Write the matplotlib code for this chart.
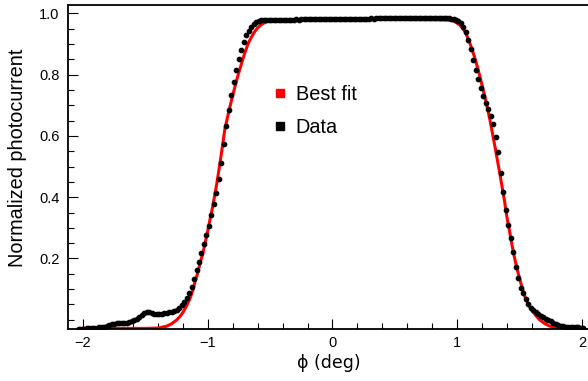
import numpy as np
import matplotlib
matplotlib.use("Agg")
import matplotlib.pyplot as plt
from matplotlib.lines import Line2D
from matplotlib.ticker import MultipleLocator

plt.rcParams['font.family'] = ['Liberation Sans', 'DejaVu Sans']

# ---- measured data (phi in deg, normalized photocurrent) ----
phi_data = [
    -2.03, -2.01, -1.99, -1.97, -1.95, -1.93, -1.91, -1.89, -1.87, -1.85,
    -1.83, -1.81, -1.79, -1.77, -1.75, -1.73, -1.71, -1.69, -1.67, -1.65,
    -1.63, -1.61, -1.59, -1.57, -1.55, -1.53, -1.51, -1.49, -1.47, -1.45,
    -1.43, -1.41, -1.39, -1.37, -1.35, -1.33, -1.31, -1.29, -1.27, -1.25,
    -1.23, -1.21, -1.19, -1.17, -1.15, -1.13, -1.11, -1.09, -1.07, -1.05,
    -1.03, -1.01, -0.99, -0.97, -0.95, -0.93, -0.91, -0.89, -0.87, -0.85,
    -0.83, -0.81, -0.79, -0.77, -0.75, -0.73, -0.71, -0.69, -0.67, -0.65,
    -0.63, -0.61, -0.59, -0.57, -0.55, -0.53, -0.51, -0.49, -0.47, -0.45,
    -0.43, -0.41, -0.39, -0.37, -0.35, -0.33, -0.31, -0.29, -0.27, -0.25,
    -0.23, -0.21, -0.19, -0.17, -0.15, -0.13, -0.11, -0.09, -0.07, -0.05,
    -0.03, -0.01, 0.01, 0.03, 0.05, 0.07, 0.09, 0.11, 0.13, 0.15,
    0.17, 0.19, 0.21, 0.23, 0.25, 0.27, 0.29, 0.31, 0.33, 0.35,
    0.37, 0.39, 0.41, 0.43, 0.45, 0.47, 0.49, 0.51, 0.53, 0.55,
    0.57, 0.59, 0.61, 0.63, 0.65, 0.67, 0.69, 0.71, 0.73, 0.75,
    0.77, 0.79, 0.81, 0.83, 0.85, 0.87, 0.89, 0.91, 0.93, 0.95,
    0.97, 0.99, 1.01, 1.03, 1.05, 1.07, 1.09, 1.11, 1.13, 1.15,
    1.17, 1.19, 1.21, 1.23, 1.25, 1.27, 1.29, 1.31, 1.33, 1.35,
    1.37, 1.39, 1.41, 1.43, 1.45, 1.47, 1.49, 1.51, 1.53, 1.55,
    1.57, 1.59, 1.61, 1.63, 1.65, 1.67, 1.69, 1.71, 1.73, 1.75,
    1.77, 1.79, 1.81, 1.83, 1.85, 1.87, 1.89, 1.91, 1.93, 1.95,
    1.97, 1.99, 2.01,
]
current_data = [
    -0.029, -0.029, -0.029, -0.028, -0.028, -0.028, -0.027, -0.026, -0.025, -0.024,
    -0.023, -0.021, -0.017, -0.014, -0.013, -0.012, -0.011, -0.011, -0.010, -0.009,
    -0.007, -0.005, -0.002, 0.002, 0.008, 0.016, 0.021, 0.024, 0.024, 0.022,
    0.020, 0.019, 0.018, 0.019, 0.021, 0.023, 0.025, 0.027, 0.029, 0.032,
    0.038, 0.047, 0.057, 0.070, 0.086, 0.108, 0.133, 0.162, 0.189, 0.219,
    0.246, 0.276, 0.307, 0.341, 0.377, 0.413, 0.459, 0.511, 0.572, 0.633,
    0.686, 0.733, 0.777, 0.814, 0.851, 0.881, 0.906, 0.928, 0.943, 0.956,
    0.965, 0.970, 0.975, 0.977, 0.978, 0.978, 0.978, 0.978, 0.978, 0.979,
    0.978, 0.979, 0.979, 0.979, 0.979, 0.979, 0.979, 0.980, 0.979, 0.980,
    0.980, 0.980, 0.980, 0.980, 0.980, 0.980, 0.981, 0.980, 0.981, 0.981,
    0.981, 0.981, 0.981, 0.981, 0.981, 0.982, 0.981, 0.982, 0.982, 0.982,
    0.982, 0.982, 0.982, 0.982, 0.982, 0.982, 0.982, 0.983, 0.982, 0.983,
    0.983, 0.983, 0.983, 0.983, 0.983, 0.983, 0.983, 0.983, 0.983, 0.983,
    0.983, 0.983, 0.983, 0.984, 0.983, 0.983, 0.984, 0.983, 0.984, 0.983,
    0.984, 0.983, 0.983, 0.983, 0.983, 0.983, 0.983, 0.983, 0.983, 0.982,
    0.981, 0.979, 0.975, 0.967, 0.956, 0.940, 0.913, 0.882, 0.847, 0.815,
    0.784, 0.755, 0.731, 0.708, 0.687, 0.666, 0.639, 0.598, 0.546, 0.479,
    0.416, 0.358, 0.309, 0.266, 0.220, 0.173, 0.135, 0.104, 0.086, 0.068,
    0.053, 0.040, 0.032, 0.024, 0.018, 0.013, 0.009, 0.004, 0.000, -0.004,
    -0.009, -0.013, -0.016, -0.019, -0.021, -0.022, -0.023, -0.023, -0.024, -0.024,
    -0.025, -0.026, -0.027,
]

# ---- best-fit curve ----
phi_fit = [
    -2.04, -1.50, -1.40, -1.33, -1.29, -1.25, -1.22, -1.196, -1.17, -1.142,
    -1.12, -1.102, -1.08, -1.062, -1.04, -1.022, -1.005, -0.988, -0.96, -0.925,
    -0.895, -0.862, -0.842, -0.822, -0.802, -0.782, -0.762, -0.741, -0.725, -0.709,
    -0.692, -0.675, -0.658, -0.640, -0.622, -0.603, -0.58, -0.555, -0.53, -0.501,
    -0.45, -0.42, 0.0, 0.50, 0.85, 0.92, 0.968, 0.995, 1.022, 1.042,
    1.062, 1.082, 1.102, 1.122, 1.142, 1.162, 1.182, 1.202, 1.222, 1.242,
    1.262, 1.30, 1.34, 1.38, 1.396, 1.423, 1.443, 1.463, 1.483, 1.503,
    1.523, 1.543, 1.57, 1.597, 1.63, 1.663, 1.70, 1.743, 1.80, 1.85,
    2.02,
]
current_fit = [
    -0.028, -0.028, -0.027, -0.021, -0.013, -0.001, 0.012, 0.026, 0.045, 0.070,
    0.095, 0.124, 0.153, 0.184, 0.215, 0.249, 0.280, 0.315, 0.370, 0.450,
    0.530, 0.624, 0.660, 0.695, 0.729, 0.760, 0.791, 0.820, 0.842, 0.863,
    0.883, 0.902, 0.916, 0.929, 0.941, 0.951, 0.960, 0.967, 0.972, 0.975,
    0.978, 0.979, 0.980, 0.980, 0.979, 0.978, 0.975, 0.969, 0.961, 0.952,
    0.940, 0.922, 0.902, 0.878, 0.853, 0.824, 0.793, 0.760, 0.727, 0.690,
    0.652, 0.570, 0.480, 0.385, 0.340, 0.280, 0.235, 0.195, 0.160, 0.130,
    0.100, 0.075, 0.050, 0.032, 0.014, -0.001, -0.012, -0.021, -0.026, -0.028,
    -0.028,
]

legend_labels = ["Best fit", "Data"]
x_ticks = [-2, -1, 0, 1, 2]
y_ticks = [0.2, 0.4, 0.6, 0.8, 1.0]

W, H = 588, 381
fig = plt.figure(figsize=(W / 100, H / 100), dpi=100)
ax = fig.add_axes([68 / W, 1 - 329 / H, (588 - 68) / W, (329 - 5) / H])

ax.plot(phi_fit, current_fit, color='#ff0000', lw=2.2, zorder=2,
        solid_capstyle='round', solid_joinstyle='round')
ax.plot(phi_data, current_data, linestyle='none', marker='o', ms=3.1,
        color='black', zorder=3)

ax.set_xlim(-2.12, 2.048)
ax.set_ylim(-0.030, 1.027)
ax.set_xticks(x_ticks)
ax.set_yticks(y_ticks)
ax.xaxis.set_minor_locator(MultipleLocator(0.2))
ax.yaxis.set_minor_locator(MultipleLocator(0.05))
ax.tick_params(which='both', direction='in', width=0.8, colors='black',
               labelsize=10.5, top=False, right=False)
ax.tick_params(which='major', length=7)
ax.tick_params(which='minor', length=4)
ax.tick_params(axis='y', which='major', pad=6)
ax.tick_params(axis='x', which='major', pad=5)
ax.set_yticklabels(["0.2", "0.4", "0.6", "0.8", "1.0"])

for s in ['left', 'bottom', 'top']:
    ax.spines[s].set_linewidth(1.3)
    ax.spines[s].set_color('black')
ax.spines['right'].set_visible(False)

fig.text(18 / W, 1 - 158 / H, "Normalized photocurrent", rotation=90,
         ha='center', va='center', fontsize=14.3)
fig.text(329 / W, 1 - 363 / H, "ϕ (deg)", ha='center', va='center',
         fontsize=12.5, family=['DejaVu Sans'])

handles = [Line2D([], [], linestyle='none', marker='s', ms=5.5,
                  color='#ff0000'),
           Line2D([], [], linestyle='none', marker='s', ms=5.5,
                  color='black')]
fig.legend(handles, legend_labels, loc='center left',
           bbox_to_anchor=(274 / W, 1 - 111 / H), frameon=False,
           fontsize=14.3, handlelength=0.6, handletextpad=0.5,
           labelspacing=0.68, borderpad=0, borderaxespad=0)

fig.savefig("out.png", dpi=100)
